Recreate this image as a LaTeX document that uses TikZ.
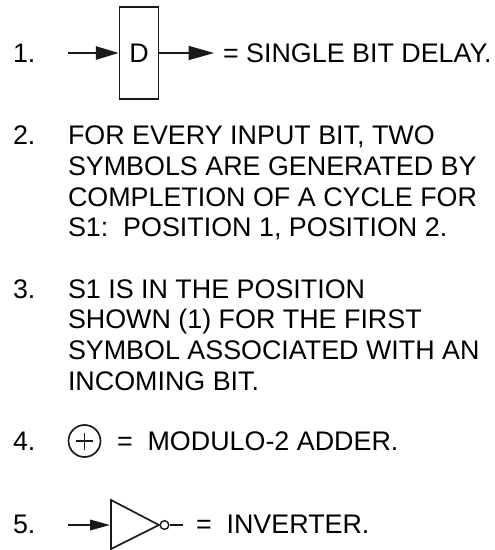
\documentclass[tikz,border=0pt]{standalone}
\usepackage{fontspec}
\setmainfont{Liberation Sans}
\usetikzlibrary{arrows.meta}
\tikzset{
  txt/.style={anchor=base west,inner sep=0pt,outer sep=0pt,font=\fontsize{20.15}{20.15}\selectfont,text=black},
  ln/.style={line width=1.05pt,black!90},
  tipa/.style={-{Triangle[length=17pt,width=10pt]}},
  tipc/.style={-{Triangle[length=19pt,width=10.5pt]}},
  tipb/.style={-{Triangle[length=15pt,width=8pt]}}
}
\begin{document}
\begin{tikzpicture}[x=0.75pt,y=-0.75pt]
\useasboundingbox (0,0) rectangle (495,550);
\node[txt] (n1) at (13,62) {1.};
\node[txt] (t1) at (223,62) {=\ SINGLE BIT DELAY.};
\node[draw,ln,minimum width=29.6pt,minimum height=69pt,inner sep=0pt] (d) at (139,53) {};
\node[txt,anchor=base] (dl) at (139,62) {D};
\coordinate (a1) at (68,53);
\coordinate (a2) at (214,53);
\draw[ln,tipa] (a1) -- (d.west);
\draw[ln,tipc] (d.east) -- (a2);
\node[txt] (n2) at (13,144) {2.};
\node[txt] (l21) at (68,144) {FOR EVERY INPUT BIT, TWO};
\node[txt] (l22) at (68,175) {SYMBOLS ARE GENERATED BY};
\node[txt] (l23) at (68,206) {COMPLETION OF A CYCLE FOR};
\node[txt] (l24) at (68,236) {S1:\ \ POSITION 1, POSITION 2.};
\node[txt] (n3) at (13,298) {3.};
\node[txt] (l31) at (68,298) {S1 IS IN THE POSITION};
\node[txt] (l32) at (68,328) {SHOWN (1) FOR THE FIRST};
\node[txt] (l33) at (68,359) {SYMBOL ASSOCIATED WITH AN};
\node[txt] (l34) at (68,390) {INCOMING BIT.};
\node[txt] (n4) at (13,450) {4.};
\node[draw,ln,line width=1.25pt,circle,minimum size=24pt,inner sep=0pt] (add) at (84.5,441) {};
\coordinate (pw) at (76,441);
\coordinate (pe) at (93,441);
\coordinate (pn) at (84.5,432.5);
\coordinate (ps) at (84.5,449.5);
\draw[ln,line width=1.25pt] (pw) -- (pe);
\draw[ln,line width=1.25pt] (pn) -- (ps);
\node[txt] (t4) at (117,450) {=\ \ MODULO-2 ADDER.};
\node[txt] (n5) at (13,533) {5.};
\node[txt] (t5) at (196,533) {=\ \ INVERTER.};
\coordinate (tA) at (111,500);
\coordinate (tB) at (111,549);
\coordinate (tC) at (159,525);
\coordinate (tW) at (110,525);
\coordinate (i1) at (68,525);
\coordinate (o1) at (183,525);
\draw[ln,line width=1.25pt,line join=miter] (tA) -- (tB) -- (tC) -- cycle;
\draw[ln,tipb] (i1) -- (tW);
\node[draw,ln,circle,minimum size=6.5pt,inner sep=0pt] (bub) at (164.5,525) {};
\draw[ln] (bub.east) -- (o1);
\end{tikzpicture}
\end{document}
